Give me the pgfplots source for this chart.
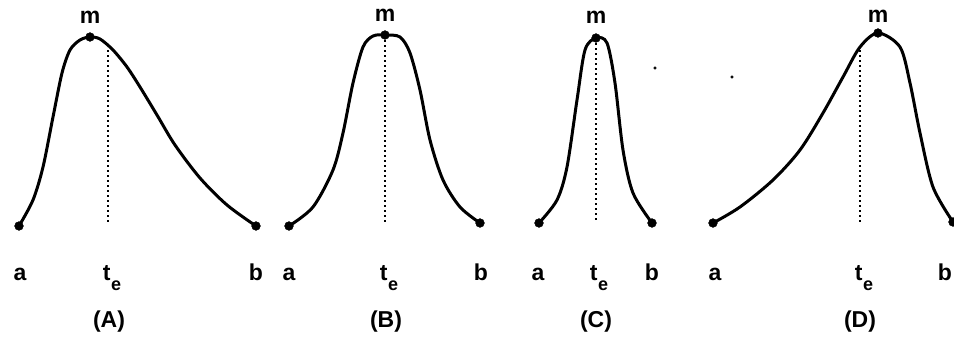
\documentclass[border=0pt]{standalone}
\usepackage{pgfplots}
\pgfplotsset{compat=1.18}
\usepackage{fontspec}
\setmainfont{Liberation Sans}
\newcommand{\te}{t\kern0.5pt\raisebox{-0.45em}{\fontsize{18}{19}\selectfont\bfseries e}}
\tikzset{lbl/.style={font=\fontsize{23}{25}\selectfont\bfseries, inner sep=0pt}}
\begin{document}
\begin{tikzpicture}
\begin{axis}[
  width=954pt, height=343pt, scale only axis,
  xmin=0, xmax=954, ymin=0, ymax=343, y dir=reverse,
  hide axis, clip=true,
]
\coordinate (ll) at (axis cs:0,343);
\coordinate (ur) at (axis cs:954,0);
% curve A
\addplot[black, line width=3pt, smooth, tension=0.5] coordinates {
 (19,226) (33,200) (43,167) (53,117) (62,73) (70,50) (80,40) (90,37)
 (100,39) (113,50) (127,67) (140,87) (157,115) (175,145) (200,178) (227,205) (256,226)};
% curve B
\addplot[black, line width=3pt, smooth, tension=0.5] coordinates {
 (289,226) (313,207) (333,170) (343,133) (353,83) (363,47) (373,36) (385,35)
 (400,37) (410,53) (420,90) (430,140) (443,180) (460,207) (480,223)};
% curve C
\addplot[black, line width=3pt, smooth, tension=0.5] coordinates {
 (539,223) (557,200) (567,167) (577,100) (585,50) (596,38)
 (607,43) (615,83) (623,150) (633,193) (652,223)};
% curve D
\addplot[black, line width=3pt, smooth, tension=0.5] coordinates {
 (713,223) (740,207) (773,180) (800,150) (823,113) (843,77) (860,47) (878,33)
 (900,47) (910,83) (920,133) (933,187) (953,222)};
% dotted t_e lines
\addplot[black, line width=2.4pt, dash pattern=on 2.4pt off 2.6pt] coordinates {(108,50) (108,222)};
\addplot[black, line width=2.4pt, dash pattern=on 2.4pt off 2.6pt] coordinates {(385,35) (385,222)};
\addplot[black, line width=2.4pt, dash pattern=on 2.4pt off 2.6pt] coordinates {(596,38) (596,222)};
\addplot[black, line width=2.4pt, dash pattern=on 2.4pt off 2.6pt] coordinates {(860,50) (860,222)};
% endpoints and maxima
\addplot[only marks, mark=*, mark size=4.4pt, black] coordinates {
 (19,226) (90,37) (256,226)
 (289,226) (385,35) (480,223)
 (539,223) (596,38) (652,223)
 (713,223) (878,33) (953,222)};
% stray specks
\addplot[only marks, mark=*, mark size=1.3pt, black] coordinates {(655,68) (732,77)};
% labels
\node[lbl] at (axis cs:90,17) {m};
\node[lbl] at (axis cs:385,15) {m};
\node[lbl] at (axis cs:596,17) {m};
\node[lbl] at (axis cs:878,16) {m};
\node[lbl, anchor=base] at (axis cs:20,280) {a};
\node[lbl, anchor=base] at (axis cs:112,280) {\te};
\node[lbl, anchor=base] at (axis cs:256,280) {b};
\node[lbl, anchor=base] at (axis cs:289,280) {a};
\node[lbl, anchor=base] at (axis cs:389,280) {\te};
\node[lbl, anchor=base] at (axis cs:481,280) {b};
\node[lbl, anchor=base] at (axis cs:538,280) {a};
\node[lbl, anchor=base] at (axis cs:599,280) {\te};
\node[lbl, anchor=base] at (axis cs:652,280) {b};
\node[lbl, anchor=base] at (axis cs:715,280) {a};
\node[lbl, anchor=base] at (axis cs:864,280) {\te};
\node[lbl, anchor=base] at (axis cs:945,280) {b};
\node[lbl] at (axis cs:109,322) {(A)};
\node[lbl] at (axis cs:386,322) {(B)};
\node[lbl] at (axis cs:596,322) {(C)};
\node[lbl] at (axis cs:860,322) {(D)};
\end{axis}
\pgfresetboundingbox
\path (ll) rectangle (ur);
\end{tikzpicture}
\end{document}
